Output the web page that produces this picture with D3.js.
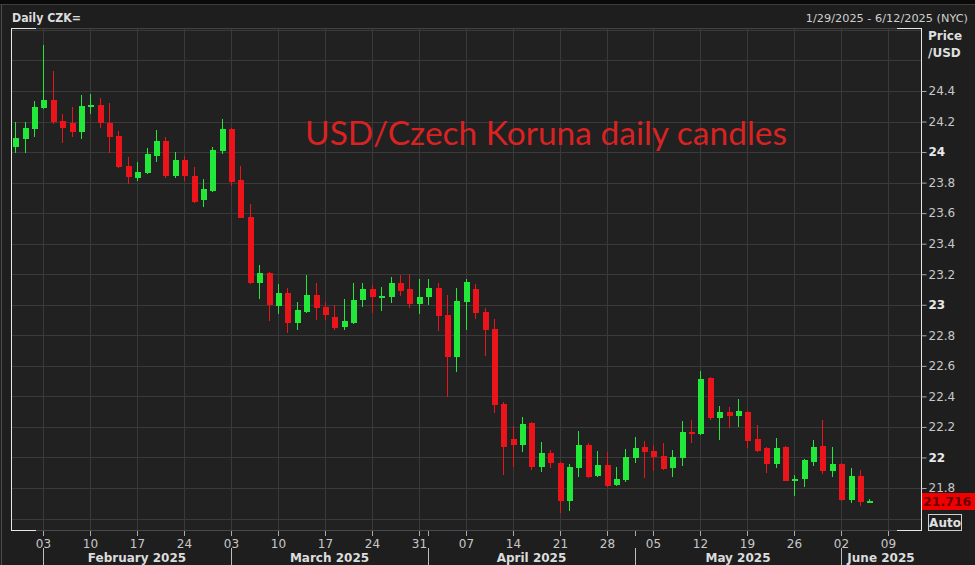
<!DOCTYPE html>
<html>
<head>
<meta charset="utf-8">
<script src="https://cdn.jsdelivr.net/npm/d3@7/dist/d3.min.js"></script>
<style>
  html, body { margin: 0; padding: 0; background: #1e1e1e; }
  svg { display: block; }
</style>
</head>
<body>
<svg id="chart" width="975" height="565"></svg>
<script>
// ---------------- DATA ----------------
const dates = [
  "2025-01-29","2025-01-30","2025-01-31",
  "2025-02-03","2025-02-04","2025-02-05","2025-02-06","2025-02-07",
  "2025-02-10","2025-02-11","2025-02-12","2025-02-13","2025-02-14",
  "2025-02-17","2025-02-18","2025-02-19","2025-02-20","2025-02-21",
  "2025-02-24","2025-02-25","2025-02-26","2025-02-27","2025-02-28",
  "2025-03-03","2025-03-04","2025-03-05","2025-03-06","2025-03-07",
  "2025-03-10","2025-03-11","2025-03-12","2025-03-13","2025-03-14",
  "2025-03-17","2025-03-18","2025-03-19","2025-03-20","2025-03-21",
  "2025-03-24","2025-03-25","2025-03-26","2025-03-27","2025-03-28",
  "2025-03-31","2025-04-01","2025-04-02","2025-04-03","2025-04-04",
  "2025-04-07","2025-04-08","2025-04-09","2025-04-10","2025-04-11",
  "2025-04-14","2025-04-15","2025-04-16","2025-04-17","2025-04-18",
  "2025-04-21","2025-04-22","2025-04-23","2025-04-24","2025-04-25",
  "2025-04-28","2025-04-29","2025-04-30","2025-05-01","2025-05-02",
  "2025-05-05","2025-05-06","2025-05-07","2025-05-08","2025-05-09",
  "2025-05-12","2025-05-13","2025-05-14","2025-05-15","2025-05-16",
  "2025-05-19","2025-05-20","2025-05-21","2025-05-22","2025-05-23",
  "2025-05-26","2025-05-27","2025-05-28","2025-05-29","2025-05-30",
  "2025-06-02","2025-06-03","2025-06-04","2025-06-05"
];
const openV = [
  24.033,24.086,24.151,
  24.289,24.341,24.204,24.190,24.131,
  24.295,24.308,24.190,24.105,23.909,
  23.830,23.863,23.974,24.073,23.843,
  23.948,23.843,23.686,23.745,24.007,
  24.151,23.817,23.575,23.143,23.208,
  22.992,23.077,22.881,22.953,23.064,
  22.985,22.920,22.854,22.881,23.031,
  23.103,23.051,23.051,23.143,23.103,
  23.005,23.051,23.110,22.933,22.658,
  23.018,23.103,22.953,22.841,22.350,
  22.121,22.082,22.226,21.938,22.029,
  21.964,21.715,21.931,22.082,21.879,
  21.951,21.820,21.853,21.997,22.069,
  22.042,22.010,21.931,21.997,22.167,
  22.154,22.520,22.259,22.298,22.272,
  22.298,22.121,22.062,21.957,22.069,
  21.846,21.859,21.970,22.075,21.911,
  21.957,21.722,21.879,21.704
];
const highV = [
  24.197,24.197,24.335,
  24.701,24.531,24.249,24.295,24.374,
  24.380,24.354,24.321,24.138,23.968,
  23.935,24.027,24.145,24.099,24.001,
  23.974,23.902,23.824,24.033,24.217,
  24.155,23.909,23.660,23.260,23.215,
  23.136,23.110,23.018,23.195,23.143,
  23.018,22.999,23.038,23.143,23.143,
  23.129,23.116,23.182,23.195,23.202,
  23.169,23.169,23.143,23.064,23.110,
  23.169,23.136,22.979,22.907,22.363,
  22.206,22.265,22.230,22.101,22.049,
  21.968,21.957,22.173,22.095,22.042,
  22.036,21.938,22.055,22.134,22.108,
  22.082,22.095,22.049,22.239,22.245,
  22.566,22.527,22.337,22.331,22.383,
  22.302,22.213,22.069,22.127,22.075,
  21.885,21.990,22.114,22.245,22.069,
  21.964,21.931,21.918,21.727
];
const lowV = [
  23.994,23.994,24.099,
  24.282,24.184,24.059,24.099,24.086,
  24.249,24.158,23.994,23.898,23.791,
  23.811,23.856,23.935,23.830,23.830,
  23.811,23.667,23.640,23.739,23.987,
  23.778,23.565,23.136,23.038,22.894,
  22.940,22.815,22.835,22.946,22.900,
  22.900,22.835,22.835,22.874,22.985,
  22.946,22.959,23.012,23.057,22.979,
  22.940,22.999,22.828,22.396,22.560,
  22.835,22.907,22.665,22.291,21.885,
  21.938,22.036,21.918,21.905,21.931,
  21.636,21.649,21.872,21.866,21.872,
  21.807,21.813,21.839,21.964,21.866,
  21.911,21.918,21.872,21.944,22.095,
  22.150,22.245,22.114,22.193,22.200,
  22.062,22.036,21.898,21.931,21.843,
  21.748,21.807,21.944,21.892,21.872,
  21.718,21.702,21.682,21.703
];
const closeV = [
  24.092,24.158,24.295,
  24.341,24.197,24.158,24.131,24.302,
  24.308,24.190,24.099,23.902,23.837,
  23.870,23.987,24.073,23.843,23.948,
  23.843,23.673,23.758,24.014,24.151,
  23.804,23.568,23.143,23.208,22.999,
  23.077,22.881,22.966,23.064,22.979,
  22.933,22.848,22.894,23.031,23.103,
  23.051,23.057,23.143,23.090,23.005,
  23.051,23.110,22.926,22.658,23.025,
  23.149,22.946,22.835,22.344,22.069,
  22.082,22.219,21.938,22.029,21.964,
  21.715,21.938,22.082,21.872,21.951,
  21.813,21.859,22.003,22.062,22.036,
  22.003,21.924,22.003,22.167,22.154,
  22.514,22.259,22.298,22.272,22.304,
  22.108,22.042,21.957,22.062,21.846,
  21.859,21.983,22.069,21.911,21.957,
  21.722,21.879,21.708,21.716
];
const lastPrice = 21.716;
const rangeStart = "2025-01-29", rangeEnd = "2025-06-12";
const weekTicks = ["2025-02-03","2025-02-10","2025-02-17","2025-02-24","2025-03-03","2025-03-10",
  "2025-03-17","2025-03-24","2025-03-31","2025-04-07","2025-04-14","2025-04-21","2025-04-28",
  "2025-05-05","2025-05-12","2025-05-19","2025-05-26","2025-06-02","2025-06-09"];
const weekTickLabels = ["03","10","17","24","03","10","17","24","31","07","14","21","28","05","12","19","26","02","09"];
const monthStarts = ["2025-02-03","2025-03-03","2025-04-01","2025-05-01","2025-06-02"];
const monthLabels = ["February 2025","March 2025","April 2025","May 2025","June 2025"];
const priceTicks = [21.8,22,22.2,22.4,22.6,22.8,23,23.2,23.4,23.6,23.8,24,24.2,24.4];
const priceGrid = [21.6,21.8,22,22.2,22.4,22.6,22.8,23,23.2,23.4,23.6,23.8,24,24.2,24.4,24.6,24.8];
const titleText = "Daily CZK=";
const rangeText = "1/29/2025 - 6/12/2025 (NYC)";
const headline = "USD/Czech Koruna daily candles";

// ---------------- LAYOUT ----------------
const W = 975, H = 565;
const P = {left: 11, right: 921, top: 28, bottom: 530};
const GREEN = "#22e83a", RED = "#ec141b";
const GRID = "#3a3a3a";
const AXF = "DejaVu Sans, Verdana, sans-serif";

const svg = d3.select("#chart");
svg.append("rect").attr("width", W).attr("height", H).attr("fill", "#1e1e1e");
svg.append("rect").attr("width", W).attr("height", 4).attr("fill", "#0a0a0a");
svg.append("line").attr("x1", 1.5).attr("x2", 1.5).attr("y1", 4).attr("y2", H).attr("stroke", "#4d4d4d");
svg.append("line").attr("x1", 0).attr("x2", W).attr("y1", 4.5).attr("y2", 4.5).attr("stroke", "#3d3d3d");

// x domain: all weekdays in the range
const parse = d3.utcParse("%Y-%m-%d");
const fmt = d3.utcFormat("%Y-%m-%d");
const allDays = d3.utcDay.range(parse(rangeStart), d3.utcDay.offset(parse(rangeEnd), 1))
  .filter(d => d.getUTCDay() !== 0 && d.getUTCDay() !== 6).map(fmt);

const x = d3.scaleBand().domain(allDays).range([10.5, P.right]).padding(0);
const cx = d => Math.round(x(d) + x.bandwidth() / 2);
const y = d3.scaleLinear().domain([21.8, 24.4]).range([488, 91]);

// plot background
svg.append("rect").attr("x", P.left).attr("y", P.top).attr("width", P.right - P.left).attr("height", P.bottom - P.top)
  .attr("fill", "#212121");

// gridlines
const g = svg.append("g").attr("shape-rendering", "crispEdges");
g.selectAll(".hg").data(priceGrid).join("line")
  .attr("x1", P.left).attr("x2", P.right)
  .attr("y1", d => Math.round(y(d)) + 0.5).attr("y2", d => Math.round(y(d)) + 0.5)
  .attr("stroke", GRID);
g.selectAll(".vg").data(weekTicks).join("line")
  .attr("x1", d => cx(d) + 0.5).attr("x2", d => cx(d) + 0.5)
  .attr("y1", P.top).attr("y2", P.bottom)
  .attr("stroke", GRID);

// frame
const fr = svg.append("g").attr("shape-rendering", "crispEdges").attr("fill", "none");
fr.append("line").attr("x1", P.left).attr("x2", P.right).attr("y1", P.top + 0.5).attr("y2", P.top + 0.5).attr("stroke", "#444");
fr.append("line").attr("x1", P.left).attr("x2", P.right).attr("y1", P.bottom + 0.5).attr("y2", P.bottom + 0.5).attr("stroke", "#4a4a4a");
const WH = "#e6e6e6";
fr.append("line").attr("x1", P.left + 0.5).attr("x2", P.left + 0.5).attr("y1", P.top).attr("y2", P.bottom + 1).attr("stroke", WH);
fr.append("line").attr("x1", P.right + 0.5).attr("x2", P.right + 0.5).attr("y1", P.top).attr("y2", P.bottom + 1).attr("stroke", WH);
[[P.left, P.left + 24, P.top], [P.left, P.left + 24, P.bottom], [P.right - 24, P.right, P.top], [P.right - 24, P.right, P.bottom]]
  .forEach(([a, b, yy]) => fr.append("line").attr("x1", a).attr("x2", b + 1).attr("y1", yy + 0.5).attr("y2", yy + 0.5).attr("stroke", WH));

// candles
const candles = dates.map((d, i) => ({d, o: openV[i], h: highV[i], l: lowV[i], c: closeV[i]}));
const cg = svg.append("g").attr("shape-rendering", "crispEdges");
cg.selectAll(".wick").data(candles).join("line")
  .attr("x1", d => cx(d.d) + 0.5).attr("x2", d => cx(d.d) + 0.5)
  .attr("y1", d => y(d.h)).attr("y2", d => y(d.l))
  .attr("stroke", d => d.c >= d.o ? GREEN : RED).attr("stroke-width", 1.2);
cg.selectAll(".body").data(candles).join("rect")
  .attr("x", d => cx(d.d) - 2.5).attr("width", 6)
  .attr("y", d => y(Math.max(d.o, d.c)))
  .attr("height", d => Math.max(1.5, Math.abs(y(d.o) - y(d.c))))
  .attr("fill", d => d.c >= d.o ? GREEN : RED);

// y axis (right)
const yAxis = d3.axisRight(y).tickValues(priceTicks).tickSize(5).tickPadding(2)
  .tickFormat(d => d3.format("~g")(d));
const ya = svg.append("g").attr("transform", `translate(${P.right + 0.5},0)`).call(yAxis);
ya.select(".domain").remove();
ya.selectAll(".tick line").attr("stroke", "#aaa");
ya.selectAll(".tick text").attr("font-family", AXF).attr("font-size", 12)
  .attr("font-weight", d => Number.isInteger(d) ? "bold" : "normal")
  .attr("fill", d => Number.isInteger(d) ? "#e8e8e8" : "#c8c8c8");

svg.append("text").attr("x", 928).attr("y", 40).text("Price")
  .attr("fill", "#dedede").attr("font-family", AXF).attr("font-size", 12).attr("font-weight", "bold");
svg.append("text").attr("x", 928).attr("y", 57).text("/USD")
  .attr("fill", "#dedede").attr("font-family", AXF).attr("font-size", 12).attr("font-weight", "bold");

// last price tag
const ly = y(lastPrice);
svg.append("rect").attr("x", P.right + 1).attr("y", Math.round(ly) - 8).attr("width", W - P.right - 1).attr("height", 17)
  .attr("fill", "#f00000");
svg.append("text").attr("x", 923).attr("y", Math.round(ly) + 5).text(d3.format(".3f")(lastPrice))
  .attr("fill", "#6a0000").attr("font-family", AXF).attr("font-size", 12.5).attr("font-weight", "bold");

// Auto box
svg.append("rect").attr("x", 928.5).attr("y", 514.5).attr("width", 33).attr("height", 16)
  .attr("fill", "none").attr("stroke", "#d0d0d0");
svg.append("text").attr("x", 945).attr("y", 527).attr("text-anchor", "middle").text("Auto")
  .attr("fill", "#e0e0e0").attr("font-family", AXF).attr("font-size", 12).attr("font-weight", "bold");

// x axis (bottom)
const labelMap = new Map(weekTicks.map((d, i) => [d, weekTickLabels[i]]));
const xTickVals = Array.from(new Set([...weekTicks, ...monthStarts]));
const xAxis = d3.axisBottom(x).tickValues(xTickVals).tickSize(5).tickPadding(3)
  .tickFormat(d => labelMap.get(d) || "");
const xa = svg.append("g").attr("transform", `translate(0,${P.bottom + 1})`).call(xAxis);
xa.select(".domain").remove();
xa.selectAll(".tick").attr("transform", d => `translate(${cx(d) + 0.5},0)`);
xa.selectAll(".tick line").attr("stroke", "#aaa");
xa.selectAll(".tick text").attr("fill", "#c8c8c8").attr("font-family", AXF).attr("font-size", 12);

// month separators & labels
const msx = monthStarts.map(cx);
svg.append("g").attr("shape-rendering", "crispEdges").selectAll("line").data(monthStarts).join("line")
  .attr("x1", d => cx(d) + 0.5).attr("x2", d => cx(d) + 0.5).attr("y1", 548).attr("y2", H)
  .attr("stroke", "#bdbdbd");
svg.append("g").selectAll("text").data(monthLabels).join("text")
  .attr("x", (d, i) => ((msx[i]) + (i + 1 < msx.length ? msx[i + 1] : P.right)) / 2)
  .attr("y", 562).attr("text-anchor", "middle").text(d => d)
  .attr("fill", "#dcdcdc").attr("font-family", AXF).attr("font-size", 12).attr("font-weight", "bold");

// header texts
svg.append("text").attr("x", 12).attr("y", 22).text(titleText)
  .attr("fill", "#dcdcdc").attr("font-family", AXF).attr("font-size", 12.5).attr("font-weight", "bold")
  .attr("textLength", 69).attr("lengthAdjust", "spacingAndGlyphs");
svg.append("text").attr("x", 968).attr("y", 22).attr("text-anchor", "end").text(rangeText)
  .attr("fill", "#d0d0d0").attr("font-family", AXF).attr("font-size", 11.3);

// headline
svg.append("text").attr("x", 305).attr("y", 145).text(headline)
  .attr("fill", "#d92222").attr("font-family", "Lato, 'Open Sans', sans-serif").attr("font-size", 32)
  .attr("textLength", 482).attr("lengthAdjust", "spacingAndGlyphs");
</script>
</body>
</html>
